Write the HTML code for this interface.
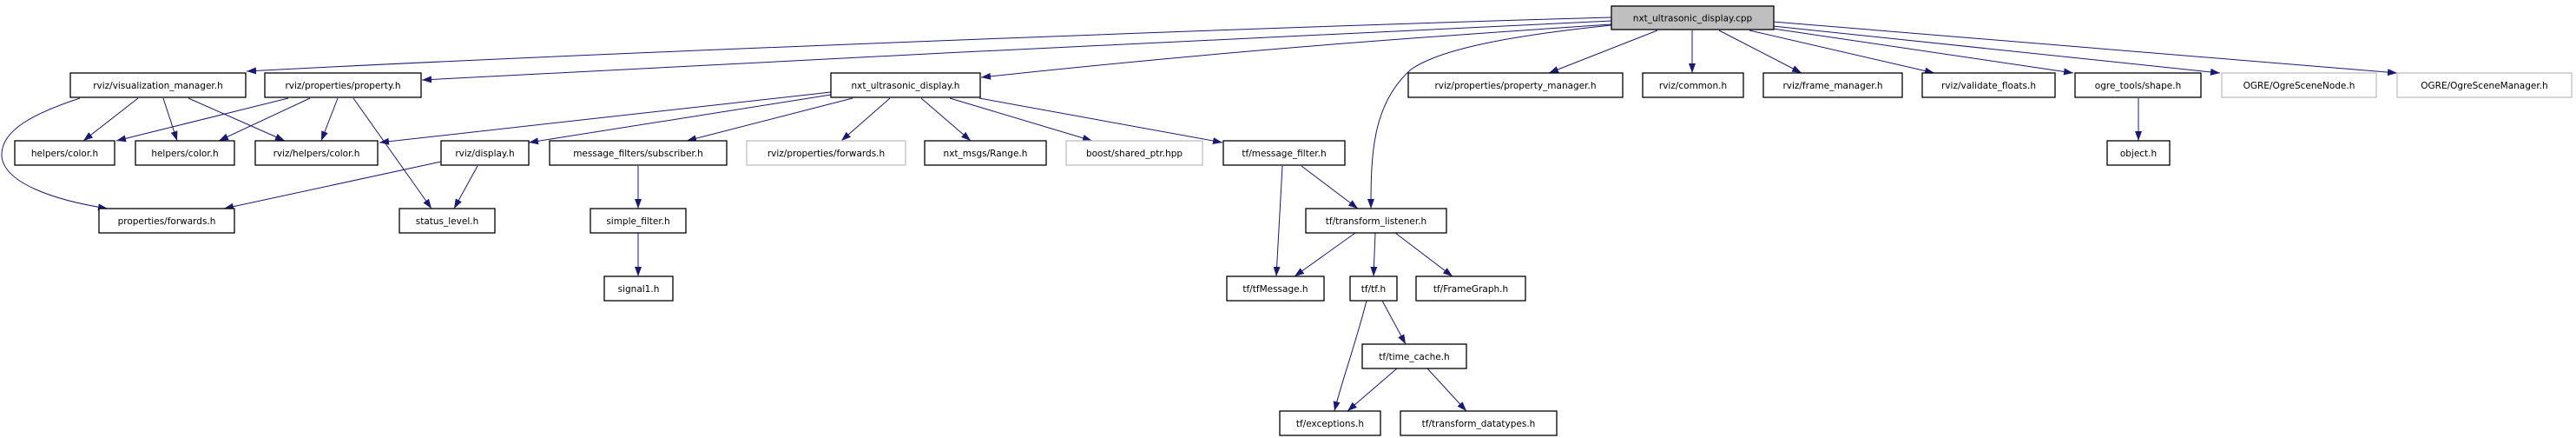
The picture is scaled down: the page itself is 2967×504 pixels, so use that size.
<!DOCTYPE html>
<html><head><meta charset="utf-8"><style>
html,body{margin:0;padding:0;background:#fff;}
svg{display:block;}
text{font-family:"DejaVu Sans","Liberation Sans",sans-serif;font-size:10.5px;fill:#000;}
</style></head><body>
<svg width="2967" height="504" viewBox="0 0 2967 504" xmlns="http://www.w3.org/2000/svg">
<defs>
<marker id="a" markerUnits="userSpaceOnUse" markerWidth="12" markerHeight="10" refX="11" refY="4" orient="auto">
<path d="M0,0 L11,4 L0,8 z" fill="#191970"/>
</marker>
</defs>
<g fill="none" stroke="#191970" stroke-width="1" marker-end="url(#a)">
<!-- from top node -->
<path d="M1856,20 C1500,30 700,60 284,82"/>
<path d="M1856,24 C1500,40 900,70 486,92"/>
<path d="M1856,28 C1600,45 1400,60 1130,89"/>
<path d="M1856,29 C1750,40 1660,55 1625,80 C1580,120 1579,180 1579,240"/>
<path d="M1909,35 L1784,84"/>
<path d="M1949,35 L1949,84"/>
<path d="M1980,35 L2075,84"/>
<path d="M2015,35 L2228,84"/>
<path d="M2042,33 L2388,84"/>
<path d="M2042,30 L2557,84"/>
<path d="M2042,25 L2761,84"/>
<!-- vis manager -->
<path d="M159,113 L96,162"/>
<path d="M188,113 L204,162"/>
<path d="M217,113 L328,162"/>
<path d="M92,113 C40,130 0,150 2,180 C5,210 60,230 124,240"/>
<!-- property.h -->
<path d="M332,113 L134,162"/>
<path d="M357,113 L252,162"/>
<path d="M389,113 L370,162"/>
<path d="M407,113 L497,240"/>
<!-- nxt_ultrasonic_display.h -->
<path d="M957,106 L437,164"/>
<path d="M957,109 L609,164"/>
<path d="M982,113 L791,162"/>
<path d="M1025,113 L969,162"/>
<path d="M1061,113 L1118,162"/>
<path d="M1094,113 L1258,162"/>
<path d="M1128,113 L1408,164"/>
<!-- display.h -->
<path d="M508,186 L258,240"/>
<path d="M550,191 L523,240"/>
<!-- subscriber chain -->
<path d="M735,191 L735,240"/>
<path d="M735,268 L735,318"/>
<!-- shape -> object -->
<path d="M2463,113 L2463,162"/>
<!-- message_filter -->
<path d="M1477,191 L1470,318"/>
<path d="M1499,191 L1564,240"/>
<!-- transform_listener -->
<path d="M1561,268 L1491,318"/>
<path d="M1584,268 L1582,318"/>
<path d="M1607,268 L1673,318"/>
<!-- tf.h -->
<path d="M1574,346 C1560,400 1545,440 1537,473"/>
<path d="M1592,346 L1619,396"/>
<!-- time_cache -->
<path d="M1609,424 L1552,473"/>
<path d="M1644,424 L1689,473"/>
</g>
<g stroke-width="1.3">
<!-- row1 -->
<rect x="1856" y="7" width="187" height="27" fill="#bfbfbf" stroke="#000"/>
<text x="1949.5" y="24.5" text-anchor="middle">nxt_ultrasonic_display.cpp</text>
<!-- row2 -->
<rect x="81" y="84" width="202" height="28" fill="#fff" stroke="#000"/>
<text x="182" y="102" text-anchor="middle">rviz/visualization_manager.h</text>
<rect x="305" y="84" width="180" height="28" fill="#fff" stroke="#000"/>
<text x="395" y="102" text-anchor="middle">rviz/properties/property.h</text>
<rect x="957" y="84" width="172" height="28" fill="#fff" stroke="#000"/>
<text x="1043" y="102" text-anchor="middle">nxt_ultrasonic_display.h</text>
<rect x="1622" y="84" width="247" height="28" fill="#fff" stroke="#000"/>
<text x="1745.5" y="102" text-anchor="middle">rviz/properties/property_manager.h</text>
<rect x="1892" y="84" width="116" height="28" fill="#fff" stroke="#000"/>
<text x="1950" y="102" text-anchor="middle">rviz/common.h</text>
<rect x="2031" y="84" width="160" height="28" fill="#fff" stroke="#000"/>
<text x="2111" y="102" text-anchor="middle">rviz/frame_manager.h</text>
<rect x="2214" y="84" width="153" height="28" fill="#fff" stroke="#000"/>
<text x="2290.5" y="102" text-anchor="middle">rviz/validate_floats.h</text>
<rect x="2390" y="84" width="145" height="28" fill="#fff" stroke="#000"/>
<text x="2462.5" y="102" text-anchor="middle">ogre_tools/shape.h</text>
<rect x="2559" y="84" width="178" height="28" fill="#fff" stroke="#bfbfbf"/>
<text x="2648" y="102" text-anchor="middle">OGRE/OgreSceneNode.h</text>
<rect x="2761" y="84" width="201" height="28" fill="#fff" stroke="#bfbfbf"/>
<text x="2861.5" y="102" text-anchor="middle">OGRE/OgreSceneManager.h</text>
<!-- row3 -->
<rect x="17" y="162" width="115" height="28" fill="#fff" stroke="#000"/>
<text x="74.5" y="180" text-anchor="middle">helpers/color.h</text>
<rect x="156" y="162" width="114" height="28" fill="#fff" stroke="#000"/>
<text x="213" y="180" text-anchor="middle">helpers/color.h</text>
<rect x="294" y="162" width="141" height="28" fill="#fff" stroke="#000"/>
<text x="364.5" y="180" text-anchor="middle">rviz/helpers/color.h</text>
<rect x="508" y="162" width="101" height="28" fill="#fff" stroke="#000"/>
<text x="558.5" y="180" text-anchor="middle">rviz/display.h</text>
<rect x="633" y="162" width="204" height="28" fill="#fff" stroke="#000"/>
<text x="735" y="180" text-anchor="middle">message_filters/subscriber.h</text>
<rect x="860" y="162" width="183" height="28" fill="#fff" stroke="#bfbfbf"/>
<text x="951.5" y="180" text-anchor="middle">rviz/properties/forwards.h</text>
<rect x="1065" y="162" width="140" height="28" fill="#fff" stroke="#000"/>
<text x="1135" y="180" text-anchor="middle">nxt_msgs/Range.h</text>
<rect x="1228" y="162" width="157" height="28" fill="#fff" stroke="#bfbfbf"/>
<text x="1306.5" y="180" text-anchor="middle">boost/shared_ptr.hpp</text>
<rect x="1409" y="162" width="140" height="28" fill="#fff" stroke="#000"/>
<text x="1479" y="180" text-anchor="middle">tf/message_filter.h</text>
<rect x="2427" y="162" width="72" height="28" fill="#fff" stroke="#000"/>
<text x="2463" y="180" text-anchor="middle">object.h</text>
<!-- row4 -->
<rect x="114" y="240" width="156" height="28" fill="#fff" stroke="#000"/>
<text x="192" y="258" text-anchor="middle">properties/forwards.h</text>
<rect x="460" y="240" width="110" height="28" fill="#fff" stroke="#000"/>
<text x="515" y="258" text-anchor="middle">status_level.h</text>
<rect x="680" y="240" width="110" height="28" fill="#fff" stroke="#000"/>
<text x="735" y="258" text-anchor="middle">simple_filter.h</text>
<rect x="1504" y="240" width="162" height="28" fill="#fff" stroke="#000"/>
<text x="1585" y="258" text-anchor="middle">tf/transform_listener.h</text>
<!-- row5 -->
<rect x="696" y="318" width="79" height="28" fill="#fff" stroke="#000"/>
<text x="735.5" y="336" text-anchor="middle">signal1.h</text>
<rect x="1413" y="318" width="112" height="28" fill="#fff" stroke="#000"/>
<text x="1469" y="336" text-anchor="middle">tf/tfMessage.h</text>
<rect x="1555" y="318" width="54" height="28" fill="#fff" stroke="#000"/>
<text x="1582" y="336" text-anchor="middle">tf/tf.h</text>
<rect x="1631" y="318" width="126" height="28" fill="#fff" stroke="#000"/>
<text x="1694" y="336" text-anchor="middle">tf/FrameGraph.h</text>
<!-- row6 -->
<rect x="1569" y="396" width="120" height="28" fill="#fff" stroke="#000"/>
<text x="1629" y="414" text-anchor="middle">tf/time_cache.h</text>
<!-- row7 -->
<rect x="1474" y="473" width="116" height="28" fill="#fff" stroke="#000"/>
<text x="1532" y="491" text-anchor="middle">tf/exceptions.h</text>
<rect x="1613" y="473" width="180" height="28" fill="#fff" stroke="#000"/>
<text x="1703" y="491" text-anchor="middle">tf/transform_datatypes.h</text>
</g>
</svg>
</body></html>
